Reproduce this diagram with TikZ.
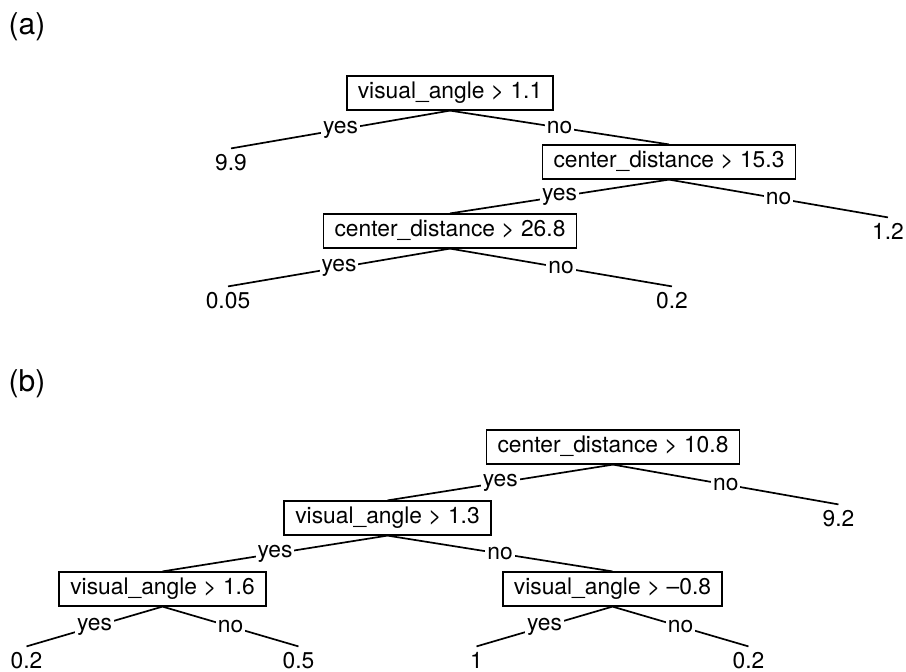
\documentclass[tikz,border=0pt]{standalone}
\usepackage{fontspec}
\setmainfont{TeX Gyre Heros}
\usepackage{tikz}

\begin{document}
\begin{tikzpicture}[split/.style={rectangle, draw=black, line width=0.9pt, inner xsep=5.5pt, inner ysep=3pt,
				   text height=8.2pt, text depth=2.5pt, font=\fontsize{11.4}{13}\selectfont},
				   leaf/.style={inner sep=2.5pt, text height=8.2pt, text depth=0pt, font=\fontsize{11.4}{13}\selectfont},
				   lab/.style={fill=white, inner sep=1pt, font=\fontsize{11.4}{13}\selectfont},
				   panel/.style={inner sep=0pt, font=\fontsize{15}{17}\selectfont},
				   parent anchor=south, child anchor=north,
				   edge from parent/.style={draw, line width=0.85pt},
				   level distance=34.5pt,
				   level 1/.style={sibling distance=219pt},
				   level 2/.style={sibling distance=219pt},
				   level 3/.style={sibling distance=222pt}]
\useasboundingbox (0,0) rectangle (453pt,-335.5pt);

\node[panel] (pa) at (13.5pt,-13.5pt) {(a)};
\node[split] (A) at (225pt,-46.5pt) {visual\_angle > 1.1}
	child {node[leaf] {9.9} edge from parent node[lab] {yes}}
	child {node[split] (B) {center\_distance > 15.3}
		child {node[split] (C) {center\_distance > 26.8}
			child {node[leaf] {0.05} edge from parent node[lab] {yes}}
			child {node[leaf] {0.2} edge from parent node[lab] {no}}
			edge from parent node[lab] {yes}
		}
		child {node[leaf] {1.2} edge from parent node[lab] {no}}
		edge from parent node[lab] {no}
	}
;

\node[panel] (pb) at (13.5pt,-192pt) {(b)};
\begin{scope}[level distance=35.5pt,
			  level 1/.style={sibling distance=225.5pt},
			  level 2/.style={sibling distance=225pt},
			  level 3/.style={sibling distance=136pt}]
\node[split] (D) at (306.5pt,-223.5pt) {center\_distance > 10.8}
	child {node[split] (E) {visual\_angle > 1.3}
		child {node[split] (F) {visual\_angle > 1.6}
			child {node[leaf] {0.2} edge from parent node[lab] {yes}}
			child {node[leaf] {0.5} edge from parent node[lab] {no}}
			edge from parent node[lab] {yes}
		}
		child {node[split] (G) {visual\_angle > –0.8}
			child {node[leaf] {1} edge from parent node[lab] {yes}}
			child {node[leaf] {0.2} edge from parent node[lab] {no}}
			edge from parent node[lab] {no}
		}
		edge from parent node[lab] {yes}
	}
	child {node[leaf] {9.2} edge from parent node[lab] {no}}
;
\end{scope}
\end{tikzpicture}
\end{document}
